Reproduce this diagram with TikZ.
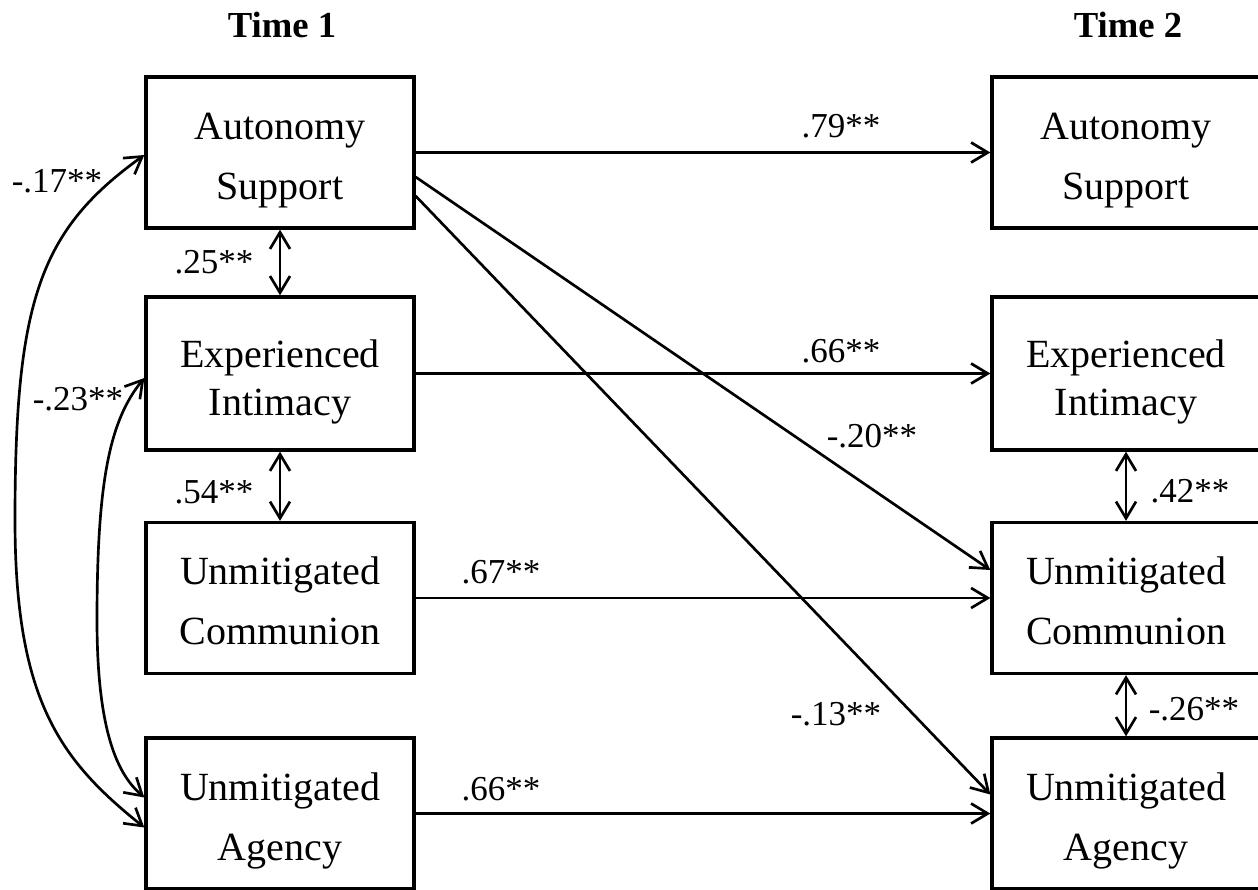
\documentclass[tikz,border=0pt]{standalone}
\usepackage{fontspec}
\setmainfont{Liberation Serif}
\usetikzlibrary{arrows.meta,calc}
\begin{document}
\begin{tikzpicture}[x=0.6pt,y=-0.6pt,
  box/.style={draw,line width=2pt,rectangle,minimum width=160.8pt,minimum height=90.6pt,inner sep=0pt,align=center,font=\fontsize{24pt}{36pt}\selectfont,text height=55.8pt,text depth=0pt},
  boxtight/.style={box,minimum height=91.8pt,font=\fontsize{24pt}{28.8pt}\selectfont,text height=49.8pt,text depth=0pt},
  lbl/.style={anchor=base,inner sep=0pt,font=\fontsize{21pt}{25pt}\selectfont},
  ttl/.style={anchor=base,inner sep=0pt,font=\fontsize{22pt}{26pt}\selectfont\bfseries},
  tip/.tip={Straight Barb[length=10pt,width=12pt]},
  arr/.style={line width=1.6pt,-tip},
  darr/.style={line width=1.6pt,tip-tip}
]
\useasboundingbox (0,0) rectangle (1258,890);

% titles
\node[ttl] (t1) at (282,38) {Time 1};
\node[ttl] (t2) at (1128,38) {Time 2};

% Time 1 boxes
\node[box] (as1) at (280,152.5) {Autonomy\\Support};
\node[boxtight] (ei1) at (280,373.5) {Experienced\\Intimacy};
\node[box] (uc1) at (280,598) {Unmitigated\\Communion};
\node[box] (ua1) at (280,813.5) {Unmitigated\\Agency};

% Time 2 boxes
\node[box] (as2) at (1126,152.5) {Autonomy\\Support};
\node[boxtight] (ei2) at (1126,373.5) {Experienced\\Intimacy};
\node[box] (uc2) at (1126,598) {Unmitigated\\Communion};
\node[box] (ua2) at (1126,813.5) {Unmitigated\\Agency};

% stability paths
\draw[arr] (as1.east) -- (as2.west);
\draw[arr] (ei1.east) -- (ei2.west);
\draw[arr] (uc1.east) -- (uc2.west);
\draw[arr] (ua1.east) -- (ua2.west);

% cross-lagged paths
\draw[arr] ([yshift=-14.7pt]as1.east) -- ([yshift=16.8pt]uc2.west);
\draw[arr] ([yshift=-26.1pt]as1.east) -- ([yshift=11.4pt]ua2.west);

% within-time correlations
\draw[darr] (as1.south) -- (ei1.north);
\draw[darr] (ei1.south) -- (uc1.north);
\draw[darr] (ei2.south) -- (uc2.north);
\draw[darr] (uc2.south) -- (ua2.north);

% curved correlations
\draw[darr] ([yshift=-8.4pt]ua1.west) .. controls (60,760) and (15,700) .. (15,520)
  .. controls (15,300) and (40,230) .. ([yshift=-1.5pt]as1.west);
\draw[darr] ([yshift=9.6pt]ua1.west) .. controls (122,778) and (97,742) .. (97,620)
  .. controls (97,480) and (110,420) .. ([yshift=-2.7pt]ei1.west);

% labels
\node[lbl] (l79) at (841,137) {.79**};
\node[lbl] (l66a) at (841,362) {.66**};
\node[lbl] (l20) at (872,447) {-.20**};
\node[lbl] (l67) at (501,583) {.67**};
\node[lbl] (l66b) at (501,800) {.66**};
\node[lbl] (l13) at (836,725) {-.13**};
\node[lbl] (l25) at (214,273) {.25**};
\node[lbl] (l54) at (214,503) {.54**};
\node[lbl] (l42) at (1190,502) {.42**};
\node[lbl] (l26) at (1194,720) {-.26**};
\node[lbl] (l17) at (57,192) {-.17**};
\node[lbl] (l23) at (78,410) {-.23**};
\end{tikzpicture}
\end{document}
